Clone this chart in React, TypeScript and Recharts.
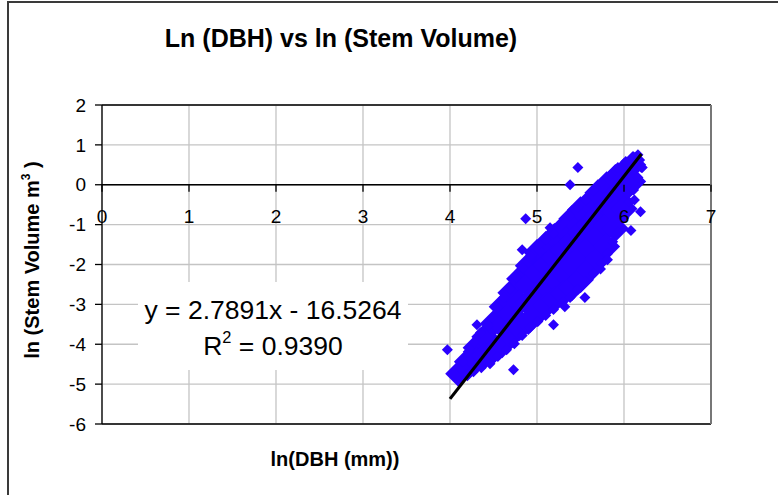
import React from 'react';
import { ScatterChart, Scatter, XAxis, YAxis, CartesianGrid, ReferenceLine } from 'recharts';

const xTicks = [0, 1, 2, 3, 4, 5, 6, 7];
const yTicks = [-6, -5, -4, -3, -2, -1, 0, 1, 2];

// thick middle of the point cloud, drawn with big markers so it fills in
const cloudCore: [number, number][] = [
  [4.1, -4.74],
  [4.2, -4.44], [4.2, -4.59],
  [4.3, -4.09], [4.3, -4.41],
  [4.4, -3.81], [4.4, -4.29],
  [4.5, -3.48], [4.5, -4.16],
  [4.6, -3.06], [4.6, -3.53], [4.6, -4.01],
  [4.7, -2.71], [4.7, -3.23], [4.7, -3.78],
  [4.8, -2.36], [4.8, -2.96], [4.8, -3.58],
  [4.9, -2.03], [4.9, -2.51], [4.9, -2.96], [4.9, -3.43],
  [5.0, -1.7], [5.0, -2.21], [5.0, -2.73], [5.0, -3.23],
  [5.1, -1.5], [5.1, -2.01], [5.1, -2.53], [5.1, -3.03],
  [5.2, -1.3], [5.2, -1.83], [5.2, -2.36], [5.2, -2.88],
  [5.3, -1.1], [5.3, -1.63], [5.3, -2.18], [5.3, -2.73],
  [5.4, -0.85], [5.4, -1.43], [5.4, -2.01], [5.4, -2.58],
  [5.5, -0.63], [5.5, -1.2], [5.5, -1.81], [5.5, -2.38],
  [5.6, -0.45], [5.6, -1.0], [5.6, -1.58], [5.6, -2.13],
  [5.7, -0.2], [5.7, -0.75], [5.7, -1.3], [5.7, -1.86],
  [5.8, 0.0], [5.8, -0.53], [5.8, -1.03], [5.8, -1.55],
  [5.9, 0.18], [5.9, -0.25], [5.9, -0.68], [5.9, -1.1],
  [6.0, 0.33], [6.0, -0.13], [6.0, -0.6],
  [6.1, 0.5], [6.1, 0.08],
];

// points along the upper and lower rim of the cloud
const cloudEdge: [number, number][] = [
  [4.15, -4.44], [4.21, -4.19], [4.28, -3.96], [4.35, -3.71], [4.44, -3.53],
  [4.49, -3.33], [4.55, -3.08], [4.62, -2.83], [4.69, -2.58], [4.76, -2.31],
  [4.84, -2.08], [4.93, -1.83], [5.02, -1.63], [5.1, -1.38], [5.19, -1.23],
  [5.29, -1.0], [5.38, -0.78], [5.47, -0.55], [5.56, -0.38], [5.65, -0.15],
  [5.74, 0.05], [5.84, 0.23], [5.93, 0.43], [6.02, 0.58], [6.11, 0.7],
  [6.16, 0.75],
  [4.12, -4.89], [4.19, -4.76], [4.27, -4.69], [4.36, -4.59], [4.46, -4.49],
  [4.55, -4.31], [4.65, -4.14], [4.74, -3.99], [4.83, -3.78], [4.92, -3.58],
  [5.01, -3.43], [5.1, -3.28], [5.19, -3.13], [5.29, -2.96], [5.38, -2.83],
  [5.47, -2.63], [5.56, -2.43], [5.65, -2.23], [5.74, -1.98], [5.81, -1.73],
  [5.87, -1.43], [5.93, -1.18], [6.0, -0.83], [6.06, -0.43], [6.11, -0.13],
  [6.16, 0.18], [6.2, 0.43], [6.18, 0.62],
];

const outliers: [number, number][] = [
  [5.47, 0.43], [5.38, 0.0], [4.87, -0.85], [5.15, -1.08], [5.03, -1.5],
  [4.83, -1.63], [4.93, -1.78], [4.69, -2.61], [4.31, -3.51], [3.97, -4.14],
  [4.73, -4.64], [5.19, -3.51], [5.32, -3.06], [5.55, -2.83], [5.73, -2.11],
  [5.81, -1.88], [6.08, -1.15], [6.19, -0.68], [6.12, -0.38], [6.21, 0.43],
];

const trendLine: [number, number][] = [[4.0, -5.37], [6.2, 0.77]];

const equationText = 'y = 2.7891x - 16.5264';
const rSquaredText = ' = 0.9390';

const FONT = '"Liberation Sans", Arial, sans-serif';
const BLUE = '#2A00FF';
const W = 778;
const H = 495;
const PLOT_TOP = 105;
const PLOT_BOTTOM = 424;
const Y_MIN = -6;
const Y_MAX = 2;

const toPoints = (arr: [number, number][]) => arr.map(([x, y]) => ({ x, y }));

function diamond(r: number) {
  return (props: any) => {
    const { cx, cy } = props;
    if (cx == null || cy == null) return <g />;
    return (
      <polygon
        points={`${cx},${cy - r} ${cx + r},${cy} ${cx},${cy + r} ${cx - r},${cy}`}
        fill={BLUE}
      />
    );
  };
}

// x labels sit just under the y = 0 line, like the Excel original
function XTick(props: any) {
  const { x, payload } = props;
  const zeroY = PLOT_TOP + ((PLOT_BOTTOM - PLOT_TOP) * Y_MAX) / (Y_MAX - Y_MIN);
  return (
    <g>
      <line x1={x} x2={x} y1={zeroY} y2={zeroY + 7} stroke="#000" strokeWidth={1.3} />
      <text x={x} y={zeroY + 38} textAnchor="middle" fontSize={19} fill="#000" fontFamily={FONT}>
        {payload.value}
      </text>
    </g>
  );
}

export default function App() {
  return (
    <div style={{ position: 'absolute', left: 0, top: 0, width: W, height: H, overflow: 'hidden', background: '#fff', fontFamily: FONT }}>
      <div style={{ position: 'absolute', left: 7, top: 1, width: W + 20, height: H + 20, borderLeft: '2px solid #3a3a3a', borderTop: '2px solid #3a3a3a' }} />
      <ScatterChart width={W} height={H} margin={{ top: PLOT_TOP, right: 67, bottom: H - PLOT_BOTTOM - 1, left: 42 }} style={{ position: 'absolute', left: 0, top: 0 }}>
        <CartesianGrid stroke="#c4c4c4" strokeWidth={1.3} />
        <XAxis
          type="number"
          dataKey="x"
          domain={[0, 7]}
          ticks={xTicks}
          height={1}
          axisLine={false}
          tickLine={false}
          tick={<XTick />}
          interval={0}
        />
        <YAxis
          type="number"
          dataKey="y"
          domain={[Y_MIN, Y_MAX]}
          ticks={yTicks}
          width={60}
          interval={0}
          axisLine={{ stroke: '#000', strokeWidth: 1.3 }}
          tickLine={{ stroke: '#000', strokeWidth: 1.3 }}
          tickSize={7}
          tickMargin={9}
          tick={{ fontSize: 19, fill: '#000', fontFamily: FONT }}
        />
        <ReferenceLine y={0} stroke="#000" strokeWidth={1.3} />
        <ReferenceLine y={Y_MAX} stroke="#000" strokeWidth={1.3} />
        <ReferenceLine y={Y_MIN} stroke="#000" strokeWidth={1.5} />
        <ReferenceLine x={7} stroke="#777" strokeWidth={2} />
        <Scatter name="core" data={toPoints(cloudCore)} shape={diamond(13.5)} isAnimationActive={false} />
        <Scatter name="edge" data={toPoints(cloudEdge)} shape={diamond(5.5)} isAnimationActive={false} />
        <Scatter name="outliers" data={toPoints(outliers)} shape={diamond(5.5)} isAnimationActive={false} />
        <Scatter
          name="trend"
          data={toPoints(trendLine)}
          line={{ stroke: '#000', strokeWidth: 3.2 }}
          shape={() => <g />}
          isAnimationActive={false}
        />
      </ScatterChart>

      <div style={{ position: 'absolute', left: 141, top: 23, width: 400, textAlign: 'center', fontWeight: 'bold', fontSize: 25, lineHeight: '30px', color: '#000' }}>
        Ln (DBH) vs ln (Stem Volume)
      </div>

      <div style={{ position: 'absolute', left: 138, top: 282, width: 270, height: 88, background: '#fff', textAlign: 'center', fontSize: 26.5, lineHeight: '36px', paddingTop: 10, boxSizing: 'border-box', color: '#000', whiteSpace: 'nowrap' }}>
        <div>{equationText}</div>
        <div>
          R<span style={{ fontSize: '0.62em', position: 'relative', top: '-0.75em' }}>2</span>
          {rSquaredText}
        </div>
      </div>

      <div style={{ position: 'absolute', left: 235, top: 447, width: 200, textAlign: 'center', fontWeight: 'bold', fontSize: 20, lineHeight: '24px', color: '#000' }}>
        ln(DBH (mm))
      </div>

      <div style={{ position: 'absolute', left: 32 - 140, top: 248, width: 280, height: 24, textAlign: 'center', fontWeight: 'bold', fontSize: 20, lineHeight: '24px', color: '#000', transform: 'rotate(-90deg)', transformOrigin: '50% 50%', whiteSpace: 'nowrap' }}>
        ln (Stem Volume m<span style={{ fontSize: '0.6em', position: 'relative', top: '-0.75em' }}>3</span> )
      </div>
    </div>
  );
}
